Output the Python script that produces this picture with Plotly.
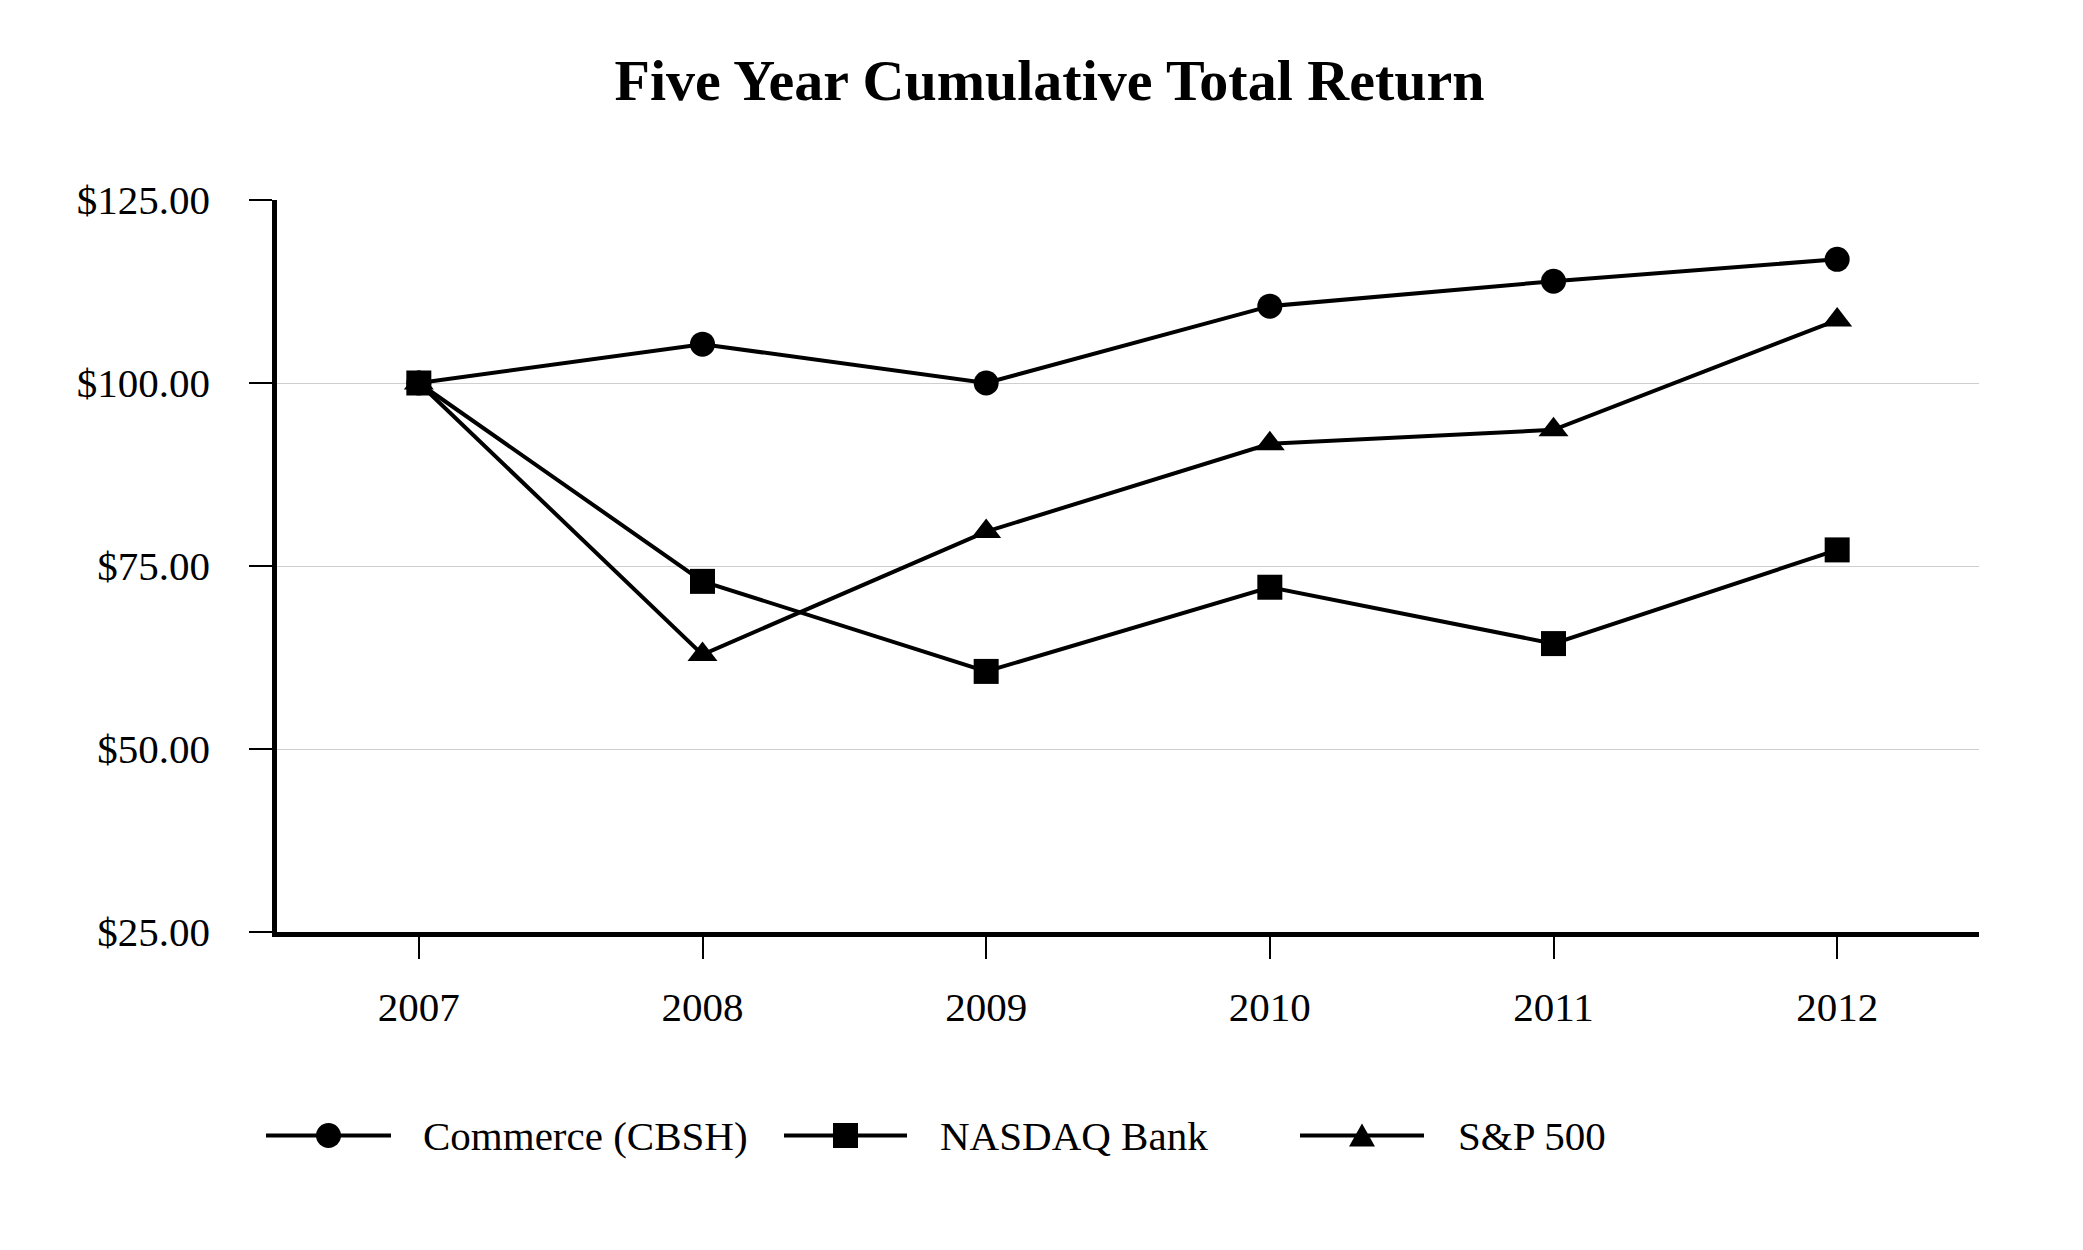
import plotly.graph_objects as go

# --- Data ---
years = ["2007", "2008", "2009", "2010", "2011", "2012"]
commerce = [100.00, 105.30, 100.00, 110.50, 113.90, 116.90]
nasdaq_bank = [100.00, 72.90, 60.60, 72.10, 64.40, 77.20]
sp500 = [100.00, 62.90, 79.70, 91.70, 93.60, 108.60]

y_ticks = [25, 50, 75, 100, 125]
y_tick_labels = ["$25.00", "$50.00", "$75.00", "$100.00", "$125.00"]

series_names = ["Commerce (CBSH)", "NASDAQ Bank", "S&P 500"]

FONT = "Liberation Serif, Times New Roman, serif"
W, H = 2083, 1250
BODY = 8  # page body margin pushes the figure right/down
M_L, M_R, M_T, M_B = 277 - BODY, 104 + BODY, 200 - BODY, 318 + BODY


def px_to_paper(px, py):
    # page pixel position -> paper coords of the plot area
    pw = W - M_L - M_R
    ph = H - M_T - M_B
    return (px - BODY - M_L) / pw, (H - M_B - (py - BODY)) / ph


fig = go.Figure()

# draw order: NASDAQ on top so its square shows at 2007
for name, values, symbol, size in [
    (series_names[0], commerce, "circle", 25),
    (series_names[2], sp500, "triangle-up", 26),
    (series_names[1], nasdaq_bank, "square", 25),
]:
    fig.add_trace(go.Scatter(
        x=years,
        y=values,
        name=name,
        mode="lines+markers",
        line=dict(color="black", width=4),
        marker=dict(symbol=symbol, size=size, color="black"),
        showlegend=False,
        cliponaxis=False,
    ))

# --- Custom legend (long line samples like the original) ---
legend_items = [
    (series_names[0], "circle", 266, 391, 421),
    (series_names[1], "square", 784, 907, 938),
    (series_names[2], "triangle", 1300, 1424, 1456),
]
legend_y = 1135.5
shapes = []
annotations = []
for name, kind, x0, x1, tx in legend_items:
    ax0, ay = px_to_paper(x0, legend_y)
    ax1, _ = px_to_paper(x1, legend_y)
    shapes.append(dict(type="line", xref="paper", yref="paper",
                       x0=ax0, x1=ax1, y0=ay, y1=ay,
                       line=dict(color="black", width=4)))
    cx = (x0 + x1) / 2
    r = 12.5
    if kind == "circle":
        a, b = px_to_paper(cx - r, legend_y - r)
        c, d = px_to_paper(cx + r, legend_y + r)
        shapes.append(dict(type="circle", xref="paper", yref="paper",
                           x0=a, x1=c, y0=d, y1=b,
                           fillcolor="black", line=dict(width=0)))
    elif kind == "square":
        a, b = px_to_paper(cx - r, legend_y - r)
        c, d = px_to_paper(cx + r, legend_y + r)
        shapes.append(dict(type="rect", xref="paper", yref="paper",
                           x0=a, x1=c, y0=d, y1=b,
                           fillcolor="black", line=dict(width=0)))
    else:
        p1 = px_to_paper(cx - 13, legend_y + 11)
        p2 = px_to_paper(cx + 13, legend_y + 11)
        p3 = px_to_paper(cx, legend_y - 12)
        path = f"M {p1[0]},{p1[1]} L {p2[0]},{p2[1]} L {p3[0]},{p3[1]} Z"
        shapes.append(dict(type="path", xref="paper", yref="paper", path=path,
                           fillcolor="black", line=dict(width=0)))
    tx_p, ty_p = px_to_paper(tx, legend_y)
    annotations.append(dict(text=name, x=tx_p, y=ty_p, xref="paper", yref="paper",
                            xanchor="left", yanchor="middle", showarrow=False,
                            font=dict(family=FONT, size=41, color="black")))

fig.update_layout(
    width=W,
    height=H,
    margin=dict(l=M_L, r=M_R, t=M_T, b=M_B),
    paper_bgcolor="white",
    plot_bgcolor="white",
    title=dict(
        text="<b>Five Year Cumulative Total Return</b>",
        font=dict(family=FONT, size=58, color="black"),
        x=0.5,
        xanchor="center",
        xref="container",
        y=1 - 72 / H,
        yanchor="middle",
    ),
    font=dict(family=FONT, size=41, color="black"),
    shapes=shapes,
    annotations=annotations,
    xaxis=dict(
        type="category",
        range=[-0.5, 5.5],
        showgrid=False,
        zeroline=False,
        showline=True,
        linecolor="black",
        linewidth=4.5,
        ticks="outside",
        ticklen=22,
        tickwidth=1.5,
        tickcolor="black",
        ticklabelstandoff=13,
        tickfont=dict(family=FONT, size=41, color="black"),
    ),
    yaxis=dict(
        range=[25, 125],
        tickvals=y_ticks,
        ticktext=y_tick_labels,
        showgrid=True,
        gridcolor="#cfcfcf",
        gridwidth=1.3,
        zeroline=False,
        showline=True,
        linecolor="black",
        linewidth=4.5,
        ticks="outside",
        ticklen=23,
        tickwidth=1.5,
        tickcolor="black",
        ticklabelstandoff=31,
        tickfont=dict(family=FONT, size=41, color="black"),
    ),
)

fig.write_html("out.html")
